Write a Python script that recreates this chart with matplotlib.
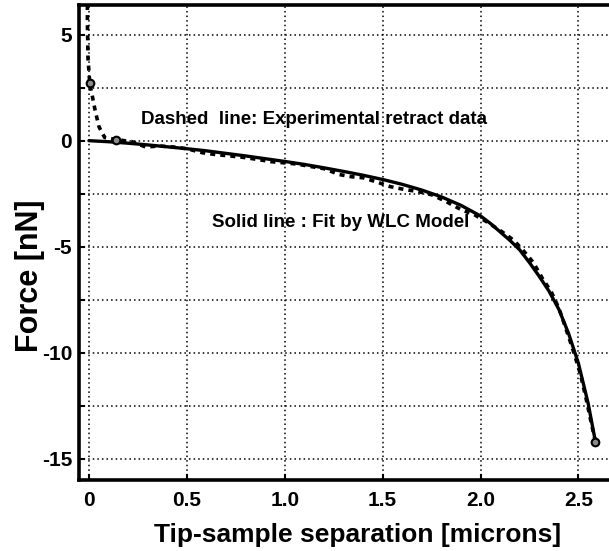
import numpy as np
import matplotlib.pyplot as plt
from matplotlib.ticker import MultipleLocator

plt.rcParams['font.family'] = ['Liberation Sans', 'DejaVu Sans']
plt.rcParams['font.weight'] = 'bold'
plt.rcParams['axes.unicode_minus'] = False

# experimental retract data (dashed)
x_exp = [-0.008, -0.008, -0.006, -0.005, 0.004, 0.014, 0.031, 0.051, 0.08, 0.14,
         0.22, 0.29, 0.36, 0.43, 0.5, 0.58, 0.65, 0.72, 0.8, 0.87,
         0.93, 0.99, 1.06, 1.12, 1.2, 1.28, 1.34, 1.4, 1.47, 1.54,
         1.61, 1.68, 1.75, 1.82, 1.9, 1.97, 2.04, 2.11, 2.17, 2.22,
         2.27, 2.32, 2.36, 2.40, 2.43, 2.47, 2.51, 2.54, 2.57, 2.587]
y_exp = [6.4, 5.6, 4.6, 3.9, 2.7, 2.25, 1.45, 0.66, 0.15, 0.05,
         -0.05, -0.3, -0.25, -0.3, -0.38, -0.57, -0.66, -0.72, -0.8, -0.9,
         -0.99, -1.04, -1.1, -1.2, -1.32, -1.6, -1.7, -1.75, -1.95, -2.17,
         -2.3, -2.4, -2.55, -2.85, -3.25, -3.5, -3.87, -4.3, -4.7, -5.2,
         -5.75, -6.56, -7.1, -7.9, -8.7, -9.8, -11.0, -12.2, -13.5, -14.2]

# WLC fit (solid)
x_fit = [0, 0.1, 0.2, 0.3, 0.4, 0.5, 0.6, 0.7, 0.8, 0.9,
         1.0, 1.1, 1.2, 1.3, 1.4, 1.5, 1.6, 1.7, 1.8, 1.9,
         2.0, 2.05, 2.1, 2.15, 2.2, 2.25, 2.3, 2.35, 2.4, 2.45,
         2.5, 2.55, 2.587]
y_fit = [0, -0.05, -0.12, -0.2, -0.29, -0.38, -0.48, -0.6, -0.72, -0.85,
         -0.98, -1.12, -1.28, -1.45, -1.63, -1.83, -2.06, -2.33, -2.65, -3.05,
         -3.55, -3.9, -4.3, -4.7, -5.15, -5.75, -6.4, -7.1, -7.95, -9.1,
         -10.5, -12.4, -14.2]

# marked points
x_mk = [0.004, 0.14, 2.587]
y_mk = [2.7, 0.05, -14.2]

fig = plt.figure(figsize=(6.09, 5.51), dpi=100)
# axes run a little past the right edge of the picture (right spine cut off)
ax = fig.add_axes([0.13, 0.129, 0.913, 0.862])

ax.plot(x_exp, y_exp, color='black', lw=2.6, ls=(0, (1.4, 1.4)))
ax.plot(x_fit, y_fit, color='black', lw=2.4, solid_capstyle='round')
ax.plot(x_mk, y_mk, 'o', color='#8a8a8a', mec='black', mew=1.5, ms=5.5)

ax.set_xlim(-0.05, 2.79)
ax.set_ylim(-16.0, 6.4)
ax.yaxis.set_major_locator(MultipleLocator(5))
ax.yaxis.set_minor_locator(MultipleLocator(2.5))
ax.set_xticks([0, 0.5, 1.0, 1.5, 2.0, 2.5])
ax.set_xticklabels(['0', '0.5', '1.0', '1.5', '2.0', '2.5'])

ax.grid(which='both', axis='y', color='black', ls=(0, (1, 2)), lw=1.1)
ax.grid(which='major', axis='x', color='black', ls=(0, (1, 2)), lw=1.1)

ax.tick_params(axis='both', which='both', direction='in', length=4, width=1.5,
               labelsize=15, pad=8)
ax.tick_params(axis='y', pad=5)
for s in ['left', 'bottom', 'top']:
    ax.spines[s].set_linewidth(2.6)
ax.spines['right'].set_visible(False)

ax.text(0.265, 1.0, 'Dashed  line: Experimental retract data', fontsize=13.5,
        fontweight='bold', va='center')
ax.text(0.63, -3.87, 'Solid line : Fit by WLC Model', fontsize=13.5,
        fontweight='bold', va='center')

ax.set_xlabel('Tip-sample separation [microns]', fontsize=19, fontweight='bold',
              labelpad=9)
ax.set_ylabel('Force [nN]', fontsize=22, fontweight='bold')
ax.yaxis.set_label_coords(-0.062, 0.43)

fig.savefig('out.png', dpi=100)
